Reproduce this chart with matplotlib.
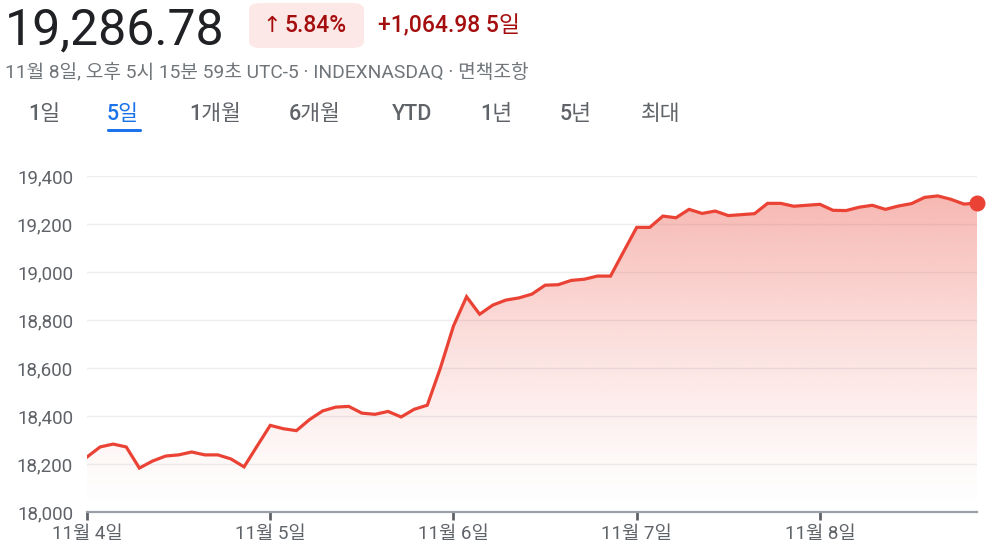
import numpy as np
import matplotlib.pyplot as plt
from matplotlib.patches import FancyBboxPatch

plt.rcParams['font.family'] = ['Roboto', 'Noto Sans CJK KR', 'DejaVu Sans']

# 30분 간격 지수 값 (11월 4일 ~ 11월 8일), 하루 14칸
prices = [18229, 18271, 18283, 18271, 18183, 18212, 18233, 18238, 18250, 18238,
          18238, 18221, 18188, 18275,
          18361, 18347, 18339, 18385, 18421, 18437, 18440, 18412, 18407, 18419,
          18396, 18428, 18445, 18600,
          18775, 18897, 18824, 18862, 18883, 18892, 18908, 18945, 18947, 18965,
          18970, 18983, 18983, 19085,
          19186, 19186, 19233, 19226, 19261, 19244, 19254, 19235, 19239, 19243,
          19286, 19286, 19274, 19278,
          19282, 19257, 19256, 19270, 19278, 19261, 19275, 19285, 19311, 19317,
          19303, 19283, 19287]
steps_per_day = 14
day_labels = ['11월 4일', '11월 5일', '11월 6일', '11월 7일', '11월 8일']
y_ticks = [18000, 18200, 18400, 18600, 18800, 19000, 19200, 19400]
tabs = ['1일', '5일', '1개월', '6개월', 'YTD', '1년', '5년', '최대']
tab_x = [28, 107, 189, 289, 392, 480, 560, 641]

W, H = 991, 547
RED = '#ea4335'
DARK_RED = '#a50e0e'

fig = plt.figure(figsize=(W / 100, H / 100), dpi=100)


def fx(x):
    return x / W


def fy(y):
    return 1 - y / H


# 헤더
fig.text(fx(5), fy(30), '19,286.78', fontsize=36, color='#202124', va='center', ha='left')
badge = FancyBboxPatch((fx(249), fy(48)), fx(115), 45 / H,
                       boxstyle='round,pad=0,rounding_size=0.012',
                       transform=fig.transFigure, facecolor='#fce8e6', edgecolor='none')
fig.patches.append(badge)
fig.text(fx(262), fy(26), '↑', fontsize=16, color=DARK_RED, va='center', ha='left',
         family=['DejaVu Sans'])
fig.text(fx(284), fy(26), '5.84%', fontsize=16.5, color=DARK_RED, va='center', ha='left',
         fontweight='medium')
fig.text(fx(378), fy(26), '+1,064.98 5일', fontsize=16.5, color=DARK_RED, va='center',
         ha='left', fontweight='medium')
fig.text(fx(5), fy(72), '11월 8일, 오후 5시 15분 59초 UTC-5 · INDEXNASDAQ · 면책조항',
         fontsize=13.8, color='#70757a', va='center', ha='left')

for t, x in zip(tabs, tab_x):
    sel = t == '5일'
    fig.text(fx(x), fy(114), t, fontsize=15.5, va='center', ha='left',
             color='#1a73e8' if sel else '#5f6368', fontweight='medium')
fig.patches.append(FancyBboxPatch((fx(107), fy(132)), fx(35), 3 / H,
                                  boxstyle='round,pad=0,rounding_size=0.002',
                                  transform=fig.transFigure, facecolor='#1a73e8',
                                  edgecolor='none'))

# 차트
ax = fig.add_axes([fx(87), fy(512), fx(977 - 87), (512 - 176) / H])
x = np.arange(len(prices)) / steps_per_day
y = np.array(prices, dtype=float)

ax.set_xlim(0, x[-1])
ax.set_ylim(18000, 19400)

# 그라데이션 채우기
grad = np.linspace(0, 1, 256).reshape(-1, 1)
rgba = np.zeros((256, 1, 4))
rgba[..., 0] = 234 / 255
rgba[..., 1] = 67 / 255
rgba[..., 2] = 53 / 255
rgba[..., 3] = 0.38 * grad ** 1.3
im = ax.imshow(rgba, extent=[0, x[-1], 18000, y.max()], origin='lower',
               aspect='auto', zorder=1, interpolation='bilinear')
poly = ax.fill_between(x, y, 18000, facecolor='none', edgecolor='none')
clip = poly.get_paths()[0]
im.set_clip_path(clip, transform=ax.transData)

ax.plot(x, y, color=RED, lw=2.3, zorder=3, solid_joinstyle='miter')
ax.scatter([x[-1]], [y[-1]], s=110, color=RED, zorder=4, clip_on=False)

for v in y_ticks[1:]:
    ax.axhline(v, color='#eceef0', lw=1, zorder=0)

ax.set_yticks(y_ticks)
ax.set_yticklabels([f'{v:,}' for v in y_ticks])
ax.set_xticks(np.arange(len(day_labels)))
ax.set_xticklabels(day_labels)

for s in ['top', 'right', 'left']:
    ax.spines[s].set_visible(False)
ax.spines['bottom'].set_color('#9aa0a6')
ax.spines['bottom'].set_linewidth(1.6)
ax.tick_params(axis='y', length=0, pad=10, labelsize=13.5, labelcolor='#5f6368')
ax.tick_params(axis='x', length=6, width=2, color='#5f6368', pad=3,
               labelsize=13.5, labelcolor='#5f6368')
ax.set_facecolor('none')

fig.savefig('out.png', dpi=100)
